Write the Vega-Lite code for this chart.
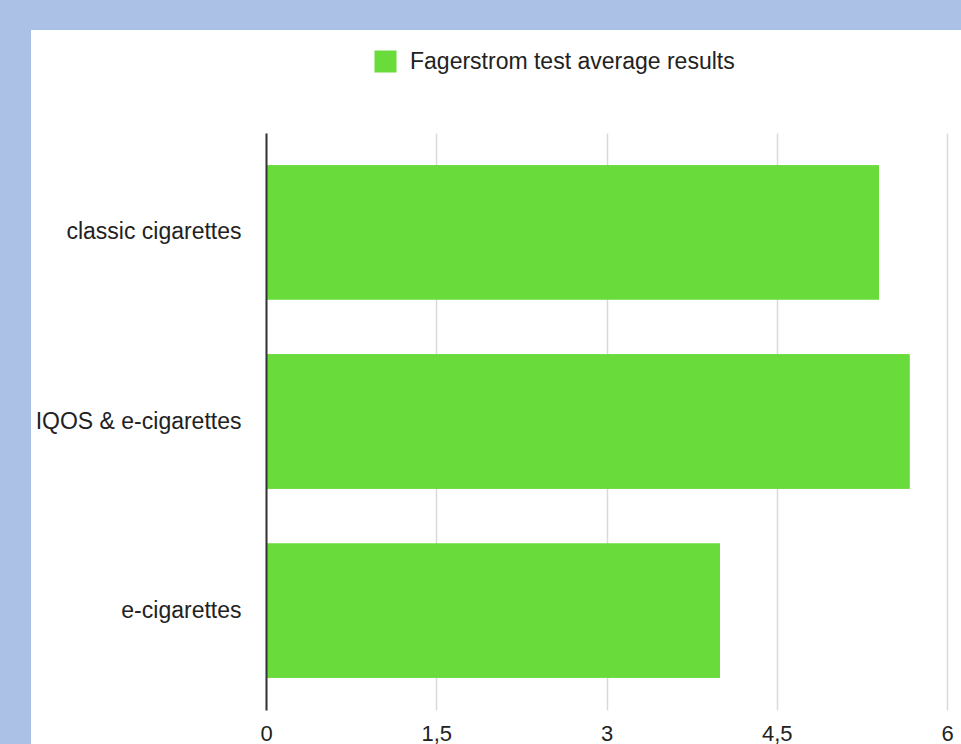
{
  "$schema": "https://vega.github.io/schema/vega-lite/v6.json",
  "width": 930,
  "height": 714,
  "autosize": {"type": "none"},
  "padding": {"left": 31, "top": 30, "right": 0, "bottom": 0},
  "background": "#abc1e6",
  "config": {
    "view": {"fill": "white", "stroke": null},
    "font": "Liberation Sans"
  },
  "data": {
    "values": [
      {"category": "classic cigarettes", "value": 5.4, "series": "Fagerstrom test average results"},
      {"category": "IQOS & e-cigarettes", "value": 5.67, "series": "Fagerstrom test average results"},
      {"category": "e-cigarettes", "value": 4.0, "series": "Fagerstrom test average results"}
    ]
  },
  "encoding": {
    "y": {
      "field": "category",
      "type": "nominal",
      "sort": ["classic cigarettes", "IQOS & e-cigarettes", "e-cigarettes"],
      "scale": {"range": [103, 680], "paddingInner": 0.29, "paddingOuter": 0.17},
      "axis": {
        "title": null,
        "offset": -235,
        "zindex": 1,
        "ticks": false,
        "grid": false,
        "domainColor": "#333333",
        "domainWidth": 2,
        "labelFontSize": 23,
        "labelColor": "#222222",
        "labelPadding": 25,
        "labelLimit": 400
      }
    },
    "color": {
      "field": "series",
      "type": "nominal",
      "scale": {"range": ["#69db3b"]},
      "legend": {
        "title": null,
        "orient": "none",
        "legendX": 343,
        "legendY": 20,
        "padding": 0,
        "symbolType": "square",
        "symbolSize": 484,
        "symbolStrokeWidth": 0,
        "symbolOpacity": 1,
        "labelFontSize": 23,
        "labelColor": "#222222",
        "labelOffset": 13,
        "labelLimit": 800
      }
    }
  },
  "resolve": {"axis": {"x": "independent"}},
  "layer": [
    {
      "mark": {"type": "bar"},
      "encoding": {
        "x": {
          "field": "value",
          "type": "quantitative",
          "scale": {"domain": [0, 6], "range": [235, 916], "nice": false, "zero": true},
          "axis": {
            "title": null,
            "orient": "top",
            "values": [0, 1.5, 3, 4.5, 6],
            "domain": false,
            "ticks": false,
            "labels": false,
            "grid": true,
            "gridColor": "#d9d9d9",
            "gridWidth": 1.5
          }
        }
      }
    },
    {
      "mark": {"type": "bar"},
      "encoding": {
        "x": {
          "field": "value",
          "type": "quantitative",
          "axis": {
            "title": null,
            "orient": "bottom",
            "values": [0, 1.5, 3, 4.5, 6],
            "offset": -34,
            "domain": false,
            "ticks": false,
            "grid": false,
            "labelFontSize": 22,
            "labelColor": "#222222",
            "labelPadding": 13,
            "labelFlush": false,
            "labelExpr": "replace(format(datum.value, '~g'), '.', ',')"
          }
        }
      }
    }
  ]
}
